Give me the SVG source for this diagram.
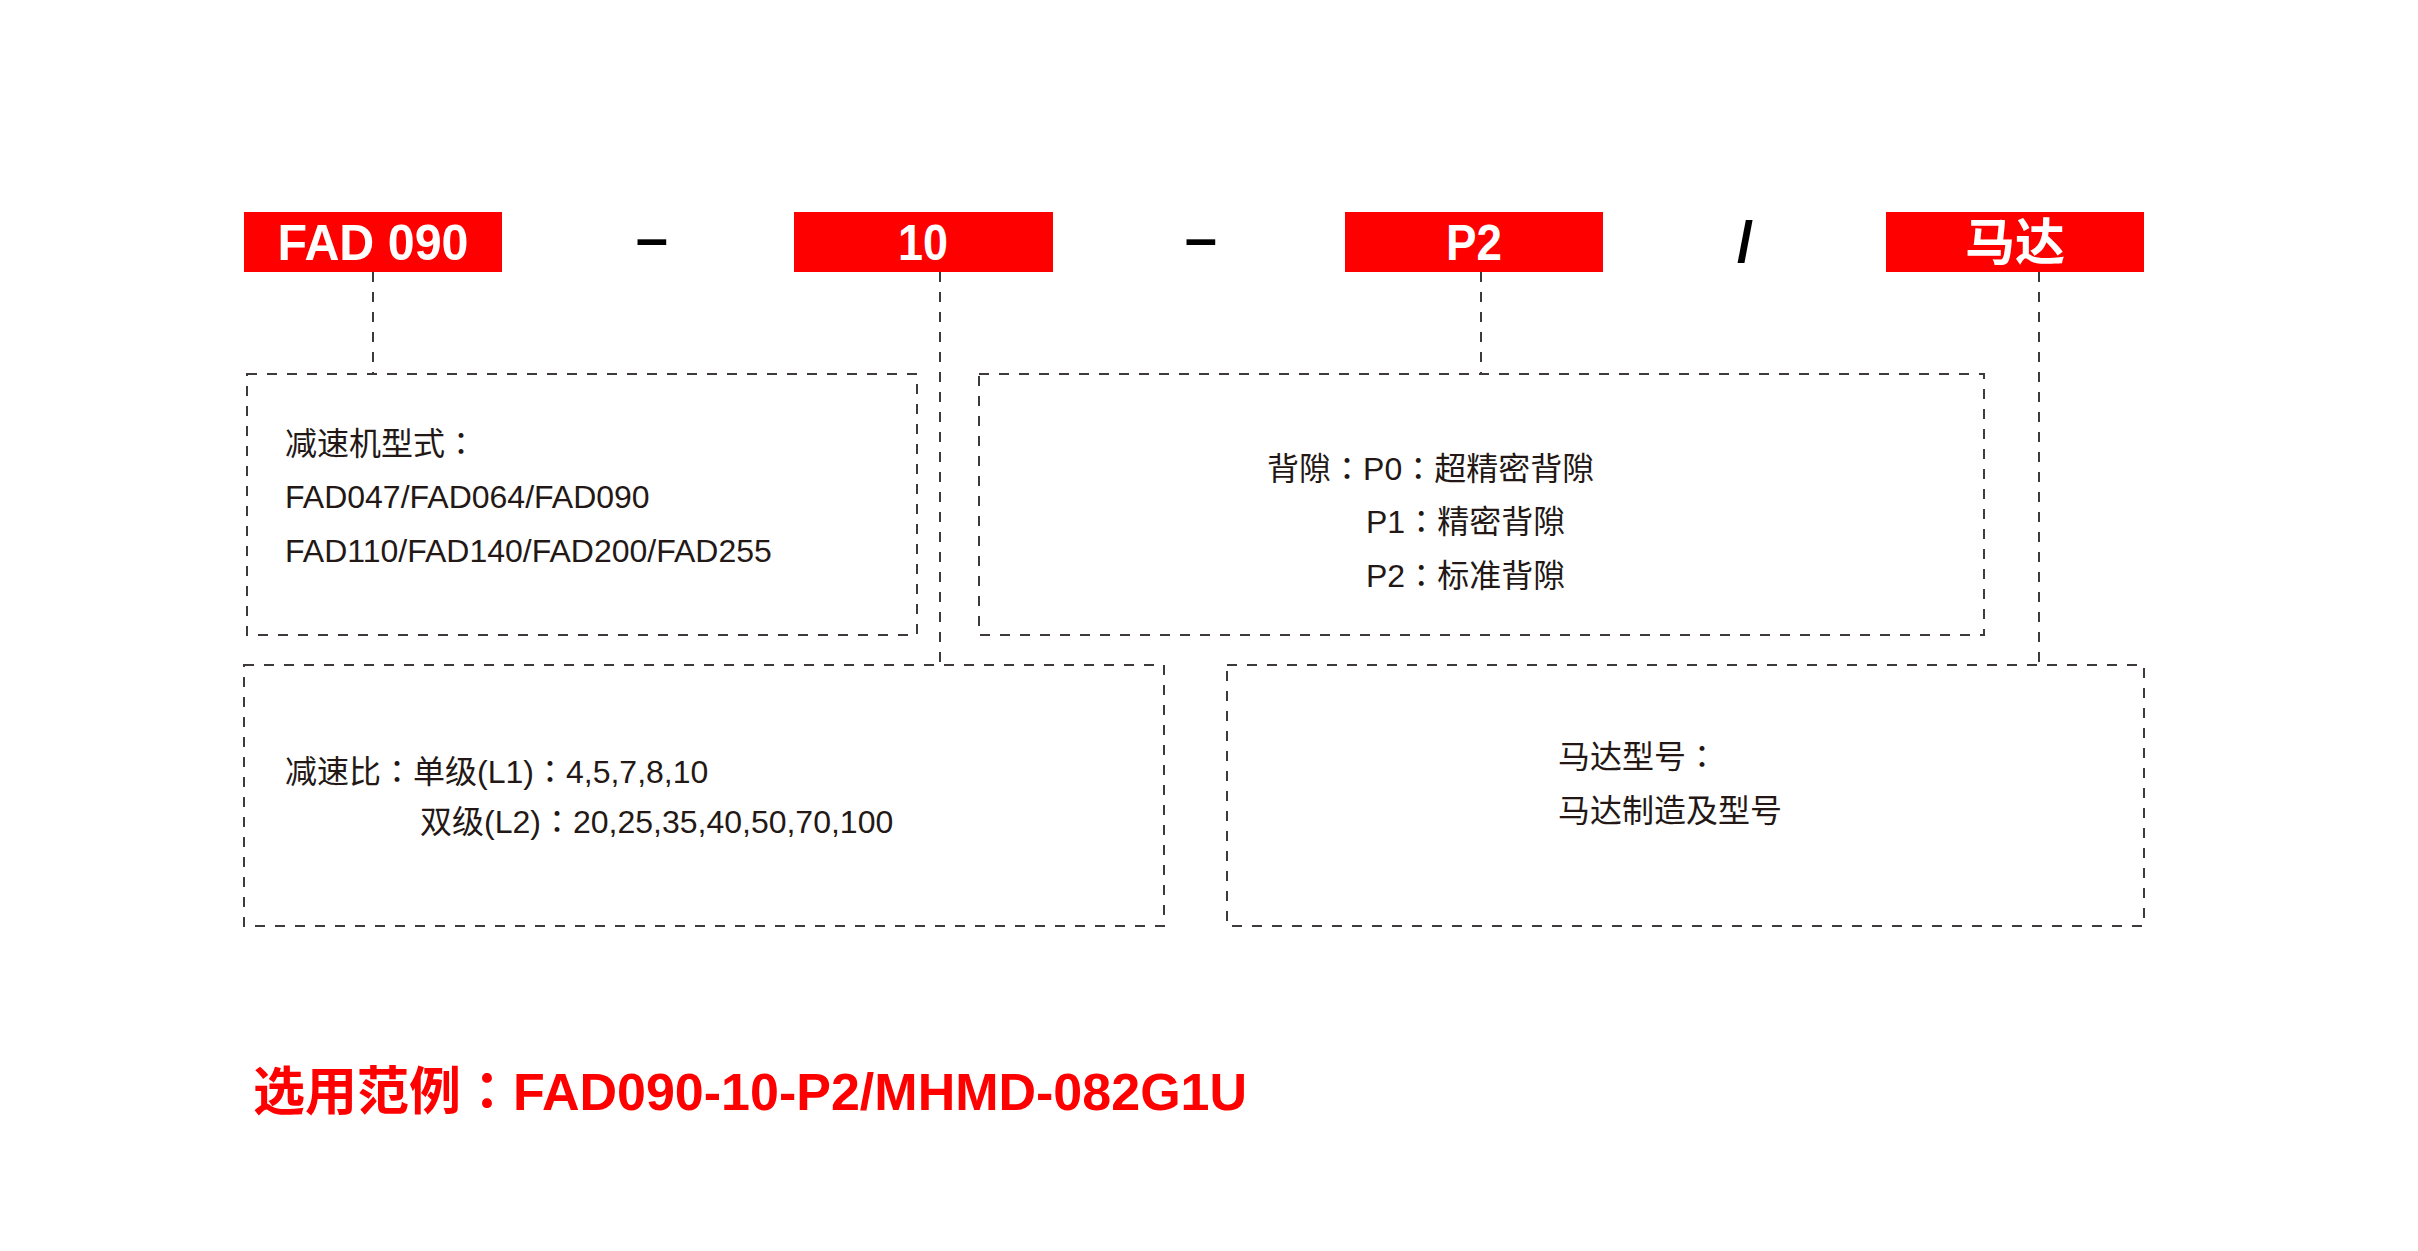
<svg xmlns="http://www.w3.org/2000/svg" width="2418" height="1251" viewBox="0 0 2418 1251">
<style>
.hdr{fill:#ff0000}
.ht{font-family:"Liberation Sans","Noto Sans CJK SC",sans-serif;font-weight:bold;font-size:50px;fill:#ffffff;text-anchor:middle}
.sep{font-family:"Liberation Sans",sans-serif;font-weight:bold;font-size:58px;fill:#000000;text-anchor:middle}
.box{fill:none;stroke:#3e3a39;stroke-width:2;stroke-dasharray:10 10}
.con{fill:none;stroke:#3e3a39;stroke-width:2;stroke-dasharray:10 10}
.t{font-family:"Liberation Sans","Noto Sans CJK SC",sans-serif;font-size:32px;fill:#231815}
.ex{font-family:"Liberation Sans","Noto Sans CJK SC",sans-serif;font-weight:bold;font-size:52px;fill:#ff0000}
.c{font-family:"Noto Sans CJK TC","Noto Sans CJK SC",sans-serif}
</style>
<rect width="2418" height="1251" fill="#ffffff"/>
<g id="connectors">
<line class="con" x1="373" y1="272" x2="373" y2="374"/>
<line class="con" x1="940" y1="272" x2="940" y2="665"/>
<line class="con" x1="1481" y1="272" x2="1481" y2="374"/>
<line class="con" x1="2039" y1="272" x2="2039" y2="665"/>
</g>
<g id="h-fad">
<rect class="hdr" x="244" y="212" width="258" height="60"/>
<text class="ht" x="373" y="260" textLength="191" lengthAdjust="spacingAndGlyphs">FAD 090</text>
</g>
<g id="sep1"><text class="sep" x="652" y="258">–</text></g>
<g id="h-ratio">
<rect class="hdr" x="794" y="212" width="259" height="60"/>
<text class="ht" x="923" y="260" textLength="50" lengthAdjust="spacingAndGlyphs">10</text>
</g>
<g id="sep2"><text class="sep" x="1201" y="258">–</text></g>
<g id="h-backlash">
<rect class="hdr" x="1345" y="212" width="258" height="60"/>
<text class="ht" x="1474" y="260" textLength="56" lengthAdjust="spacingAndGlyphs">P2</text>
</g>
<g id="sep3"><text class="sep" x="1745" y="262">/</text></g>
<g id="h-motor">
<rect class="hdr" x="1886" y="212" width="258" height="60"/>
<text class="ht" x="2015" y="260">马达</text>
</g>
<g id="b-model">
<rect class="box" x="247" y="374" width="670" height="261"/>
<text class="t" x="285" y="455">减速机型式<tspan class="c">：</tspan></text>
<text class="t" x="285" y="508">FAD047/FAD064/FAD090</text>
<text class="t" x="285" y="562">FAD110/FAD140/FAD200/FAD255</text>
</g>
<g id="b-backlash">
<rect class="box" x="979" y="374" width="1005" height="261"/>
<text class="t" x="1267" y="480">背隙<tspan class="c">：</tspan>P0<tspan class="c">：</tspan>超精密背隙</text>
<text class="t" x="1366" y="533">P1<tspan class="c">：</tspan>精密背隙</text>
<text class="t" x="1366" y="587">P2<tspan class="c">：</tspan>标准背隙</text>
</g>
<g id="b-ratio">
<rect class="box" x="244" y="665" width="920" height="261"/>
<text class="t" x="285" y="783">减速比<tspan class="c">：</tspan>单级(L1)<tspan class="c">：</tspan>4,5,7,8,10</text>
<text class="t" x="420" y="833">双级(L2)<tspan class="c">：</tspan>20,25,35,40,50,70,100</text>
</g>
<g id="b-motor">
<rect class="box" x="1227" y="665" width="917" height="261"/>
<text class="t" x="1558" y="768">马达型号<tspan class="c">：</tspan></text>
<text class="t" x="1558" y="822">马达制造及型号</text>
</g>
<g id="example">
<text class="ex" x="253" y="1110">选用范例<tspan class="c">：</tspan>FAD090-10-P2/MHMD-082G1U</text>
</g>
</svg>
